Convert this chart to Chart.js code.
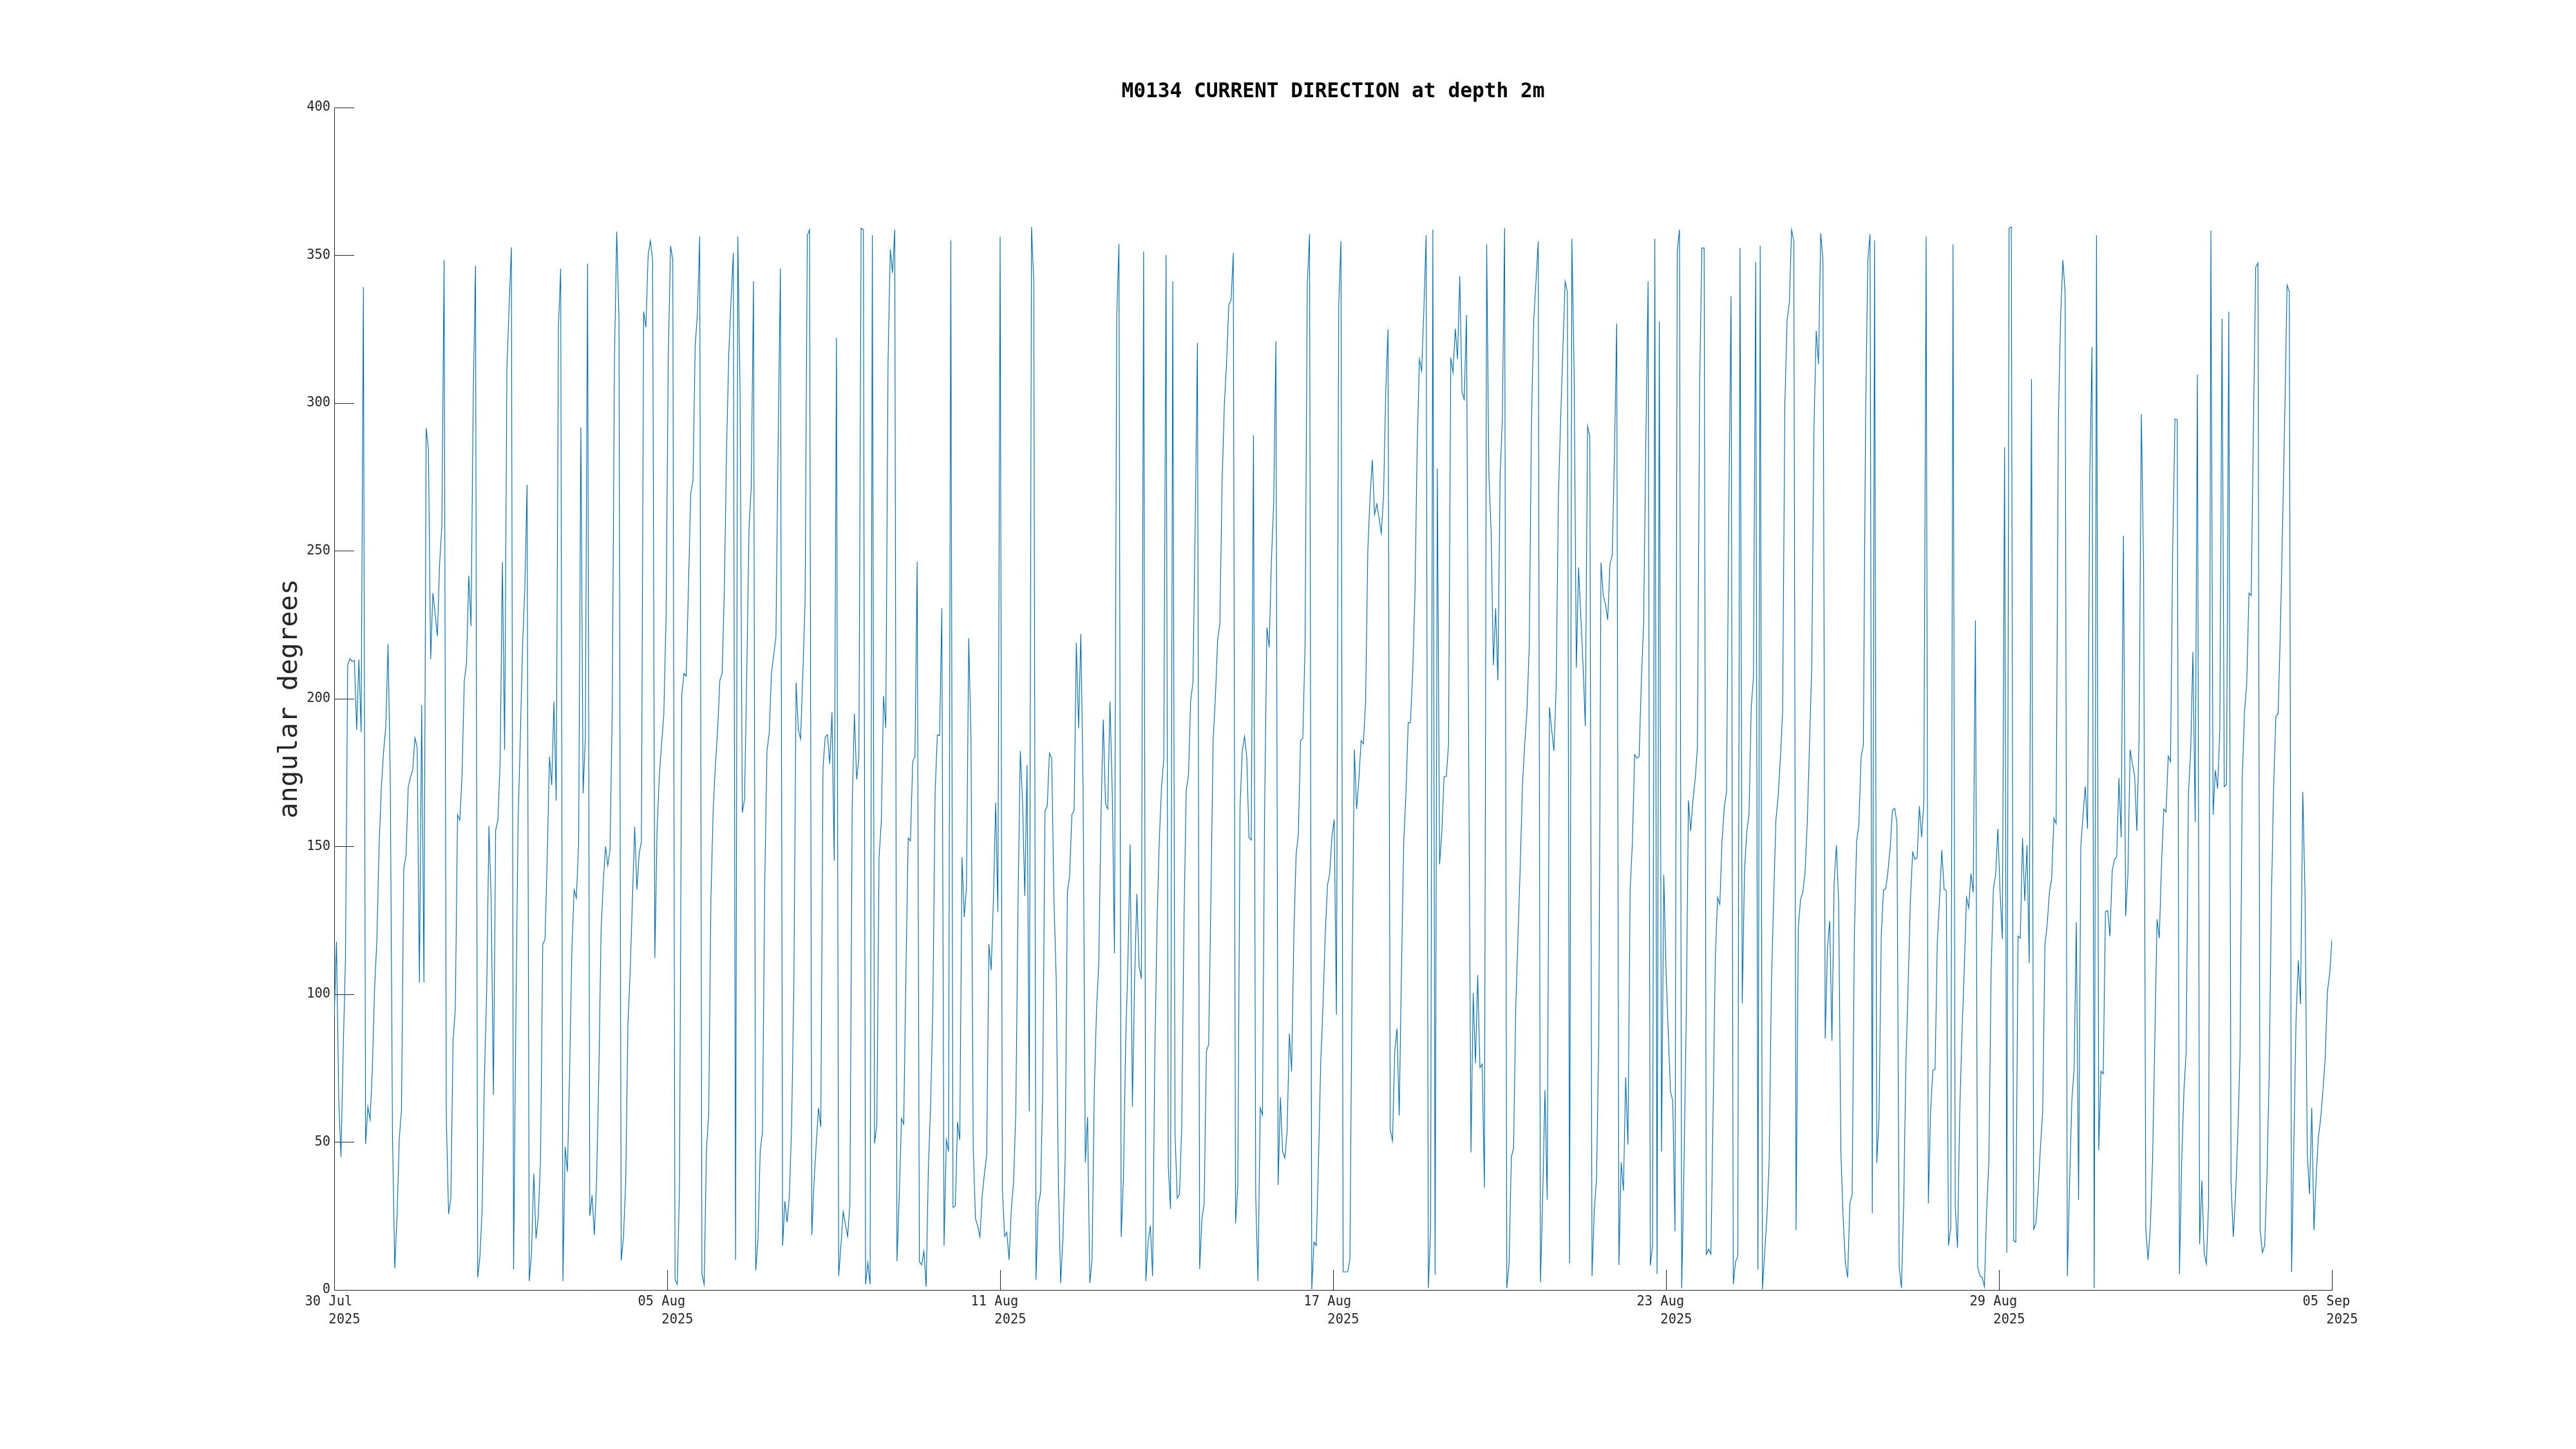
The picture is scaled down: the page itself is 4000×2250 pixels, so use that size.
<!DOCTYPE html>
<html>
<head>
<meta charset="utf-8">
<title>M0134 current direction</title>
<script src="https://cdn.jsdelivr.net/npm/chart.js@4"></script>
<style>
    html, body { margin: 0; padding: 0; background: #fff; }
    canvas { display: block; }
</style>
</head>
<body>
<canvas id="directionChart" width="4000" height="2250"></canvas>
<script>
const chartTitle = 'M0134 CURRENT DIRECTION at depth 2m';
const yAxisTitle = 'angular degrees';
const yTickValues = [0, 50, 100, 150, 200, 250, 300, 350, 400];
// two lines per tick, padded the way the original monospaced labels are
const xTickLabels = [
    ['30 Jul ', '   2025'],
    ['05 Aug ', '   2025'],
    ['11 Aug ', '   2025'],
    ['17 Aug ', '   2025'],
    ['23 Aug ', '   2025'],
    ['29 Aug ', '   2025'],
    ['05 Sep ', '   2025']
];

// hourly readings
const direction = [
    92.7,117.8,65,45,81,112,211.4,213.6,212.6,213,189.5,213.3,188.7,339.3,49.4,62,57.5,74.7,102,118,150,170,182,190.6,
    218.6,173,51,7.3,24.6,51,61,142.4,147,170,173.4,175.8,186.8,183.5,104,197.8,104,291.5,284.6,213.4,235.8,228.9,221.2,245.6,
    258.3,348.4,58,25.7,31,84.3,95,160.8,158.9,174,206,212,241.6,224.6,302,346.5,4.2,11.4,28,72.3,101,157,132,66,
    155.5,159,178.7,246.3,182.8,311.3,332.9,352.7,6.9,91.5,158.4,187,218,237,272.4,3,12.6,39.4,17.4,24.6,43.7,117,118.5,146.4,
    180.4,170.8,199,165.6,325.7,345.5,3,48.4,40,74.7,115.4,135.4,132.6,151,291.8,168,187,347.2,25,32,18.6,36.5,72.3,121.3,
    138,150,143.6,148.8,196.6,316,358,328,10,17.8,36.5,90,108,132,156.7,135.4,147.6,151.7,331,325.7,350,355,348.4,112.3,
    156,174,184.7,194.7,227.7,316.1,353.2,348.4,3.5,1.9,35.3,201.4,208.6,207.6,238.4,269.5,273.8,319.7,330.5,356.3,5.4,1.9,47.3,59.2,
    132.1,162,177.5,189.5,206.2,208.6,237.3,285.1,317.3,335.2,350.8,10.2,356.3,304.2,161.5,166,208.6,257.6,271.9,341.2,6.6,17.4,47.3,53.2,
    136.9,182.3,188.3,208.6,214.6,221,287.5,345.5,15,30,22.9,31.7,55.6,103.4,205.5,189.5,186.4,208.6,232.5,356.8,358.7,18.6,36.5,49.6,
    61.6,55.1,176.8,187.1,187.8,178,195.4,145.2,322.1,4.7,15,26.5,22.2,18.1,29.3,163.2,195,172.7,179.9,359.2,358.7,1.9,9.2,1.9,
    356.8,49.6,55.6,146.4,158.4,200.9,190.2,313.7,352,344.1,358.7,9.7,31.7,58,56.1,108.2,152.9,151.9,178.7,180.4,246.3,9.5,8.5,13.1,
    1.1,41.3,62.8,96.2,168,187.8,187.5,230.6,15,50.8,46.8,355.1,27.9,28.4,56.8,50.8,146.4,126.1,136.4,220.5,187.1,48.4,24.1,21.7,
    17.9,31.7,39.4,45.6,117,108.2,132.1,164.8,127.8,356.3,34.1,18.1,19.5,10.2,27.4,36.5,60.4,132.1,182.3,165.6,133.3,177.5,60.4,359.6,
    341.2,3.5,28.8,32.7,67.6,162,163.6,181.6,179.9,132.1,105.8,35.3,2.3,17.4,43.7,134.5,140.2,160.8,162.2,218.9,190,222,170.3,43.2,
    58.5,2.3,10.2,67.6,95,110.6,160.8,193,164.4,162.7,199,169.1,113.9,329.3,353.9,17.9,37.7,84.3,110.6,150.7,62,105.8,134,109.4,
    105.3,351.3,3,16.2,21.7,4.7,79.5,124.9,152.4,170.3,179.9,350.1,41.8,27.4,341.2,53.2,31,32.4,55.6,124.9,169.1,173.9,199.5,205.5,
    258.8,320.4,7.1,24.1,29.3,80.7,83.1,132.1,185.9,200.2,220,225.3,273.1,299.4,313.7,333.3,334.8,350.8,22.6,35.3,163.2,182.3,187.3,180.4,
    153.1,152.2,289.1,31.7,3,61.6,59.2,165.6,224.1,217.4,246.8,265.9,320.9,35.5,65.2,46.8,44.6,53.7,86.7,74,120.1,147.2,154.1,185.9,
    186.6,218.1,340,357.2,0.2,16.2,15,43.7,77.1,96.2,120.1,136.9,140.9,153.6,159.1,93.1,332.9,354.8,6.1,6.1,6.1,10.2,108.2,182.8,
    162.7,172.7,185.9,184.7,199,250.4,268.3,280.8,262.3,265.9,261.2,255.9,268.3,304.2,325,54.4,50.4,80.7,88.4,59,108.2,151.2,168,191.9,
    191.9,208.6,234.9,285.1,314.9,310.9,331.7,356.8,0.6,21,358.7,5.2,277.9,144,154.8,173.7,173.7,184.7,315.4,310.4,325.2,314.9,342.9,303.7,
    301.3,329.8,179.9,46.5,100.5,76.7,106.5,75.2,76.4,34.6,353.7,275.5,256.4,211.4,230.6,206.2,275.5,294.6,359.2,0.6,9,44.9,48,96.2,
    120.1,144,171.5,184.7,196.6,218.1,294.6,328.1,341.2,354.8,2.6,31.7,67.6,30.5,197.1,189.5,182.3,203.8,268.3,294.6,318.5,341.2,337.6,9,
    355.6,311.4,210.5,244.4,227.7,211,190.7,292.2,288.6,4.7,26.9,37.7,84.3,246.1,234.9,232,226.7,245.6,248.5,282.7,326.9,8.5,43.2,33.6,
    71.9,49.2,135.7,151.2,181.1,179.9,180.4,206.2,225.3,287.5,341.2,8.3,15,355.6,5.4,327.6,46.8,140.4,108.2,86.7,67.1,64,19.8,351.3,
    358.7,0.6,41.3,91.5,165.6,155.3,165.6,172.7,183.5,306.6,352.5,352.5,12.1,13.8,12.1,60.4,113,132.8,130.4,152.4,163.2,168.7,263.5,336.2,
    1.9,9.5,11.4,352.5,97,141.7,154.8,160.8,197.1,207.4,347.7,6.9,353.2,0.2,12.6,24.6,43.7,103.4,132.1,158.9,166.8,179.9,195.4,299.4,
    328.1,334,358.7,354.8,20.2,122.5,132.1,134.5,141.2,158.4,184.7,211,292.2,324.5,313.3,357.5,348.4,85,115.8,124.9,84.3,138.1,150.5,130.9,
    46.1,24.6,9,4.2,29.3,32.2,120.1,151.9,157.2,180.4,184.2,294.6,348.4,357.2,26,355.1,43,58,120.1,135.4,135.7,141.7,150,162.4,
    162.9,157.9,7.8,0.6,29.3,77.1,103.4,132.1,148.1,145.7,146.2,163.6,153.1,165.6,356.3,29.3,60.4,74.3,74.7,117.8,132.1,148.8,135.7,135,
    15,21,353.7,28.1,14.3,60.4,86.7,108.2,132.8,129.2,140.9,134.5,226.5,7.8,4.7,4.2,1.1,26.9,43.7,108.2,135.7,140.4,156,134.5,
    118.7,285.1,12.6,359.2,359.6,16.7,16.2,119.7,119,152.9,131.6,150.5,110.6,308.2,20.5,22.6,34.1,48.4,60.4,116.6,123.7,134.5,139.3,159.6,
    157.7,294.6,329.3,348.4,337.6,4.7,36.5,64,74.7,124.4,30.5,150,160.8,170.3,156,275.5,319,0.6,356.8,47.3,74,73.1,128,128.3,
    119.7,141.7,145.7,146.4,173.2,153.1,255.2,126.4,140.4,182.8,178,173.9,155.3,187.1,296.3,244.4,20.5,10.2,21,43.7,84.3,125.4,119,144,
    162.7,161.7,180.6,178.7,251.6,294.6,294.4,5.4,43.7,67.6,80.7,168,182.3,215.8,158.4,309.7,15.5,37,12.6,8.8,29.3,358.4,160.8,175.8,
    169.6,189.5,328.6,170.3,171,331,36.5,17.9,31.7,52,79.5,172.7,195.4,205,235.8,234.9,292.2,346,347.4,20.2,12.6,15,37.7,72.4,
    132.1,170.3,194,195,222.9,258.8,297,340,337.6,6.1,48.4,91.5,111.5,96.7,168.4,134.5,46.1,32.4,61.6,20.2,38.9,52,58,67.6,
    78.3,101,107,118.5
];

document.addEventListener('DOMContentLoaded', function () {
    const textColor = '#262626';
    const lineColor = '#0072bd';
    const monoFont = '"DejaVu Sans Mono", monospace';
    const lastHour = direction.length - 1;
    const tickStep = lastHour / (xTickLabels.length - 1);

    new Chart(document.getElementById('directionChart').getContext('2d'), {
        type: 'line',
        data: {
            datasets: [{
                label: 'Current direction',
                data: direction.map((value, hour) => ({ x: hour, y: value })),
                borderColor: lineColor,
                borderWidth: 1.15,
                pointRadius: 0,
                tension: 0,
                fill: false
            }]
        },
        options: {
            responsive: false,
            animation: false,
            events: [],
            layout: { padding: { top: 0, left: 0, right: 379, bottom: 0 } },
            plugins: {
                legend: { display: false },
                tooltip: { enabled: false },
                title: {
                    display: true,
                    text: chartTitle,
                    fullSize: false,
                    color: '#000',
                    font: { family: monoFont, size: 31.2, weight: 'bold', lineHeight: 1.2 },
                    padding: { top: 124, bottom: 5.6 }
                }
            },
            scales: {
                x: {
                    type: 'linear',
                    min: 0,
                    max: lastHour,
                    afterBuildTicks: function (scale) {
                        scale.ticks = xTickLabels.map((label, i) => ({ value: i * tickStep }));
                    },
                    afterFit: function (scale) {
                        scale.height = 247;
                    },
                    grid: { drawOnChartArea: false, tickLength: -31, tickColor: textColor, tickWidth: 1 },
                    border: { color: textColor, width: 1 },
                    ticks: {
                        color: textColor,
                        font: { family: monoFont, size: 20.4, lineHeight: 1.37 },
                        padding: 36,
                        labelOffset: -2.5,
                        autoSkip: false,
                        maxRotation: 0,
                        callback: function (value, index) {
                            return xTickLabels[index];
                        }
                    }
                },
                y: {
                    min: 0,
                    max: 400,
                    afterBuildTicks: function (scale) {
                        scale.ticks = yTickValues.map(value => ({ value: value }));
                    },
                    afterFit: function (scale) {
                        scale.width = 519;
                    },
                    grid: { drawOnChartArea: false, tickLength: -31, tickColor: textColor, tickWidth: 1 },
                    border: { color: textColor, width: 1 },
                    ticks: {
                        color: textColor,
                        font: { family: monoFont, size: 20.4 },
                        padding: 37
                    },
                    title: {
                        display: true,
                        text: yAxisTitle,
                        color: textColor,
                        font: { family: monoFont, size: 41.2, lineHeight: 1.2 },
                        padding: { top: 426, bottom: 0 }
                    }
                }
            }
        }
    });
});
</script>
</body>
</html>
